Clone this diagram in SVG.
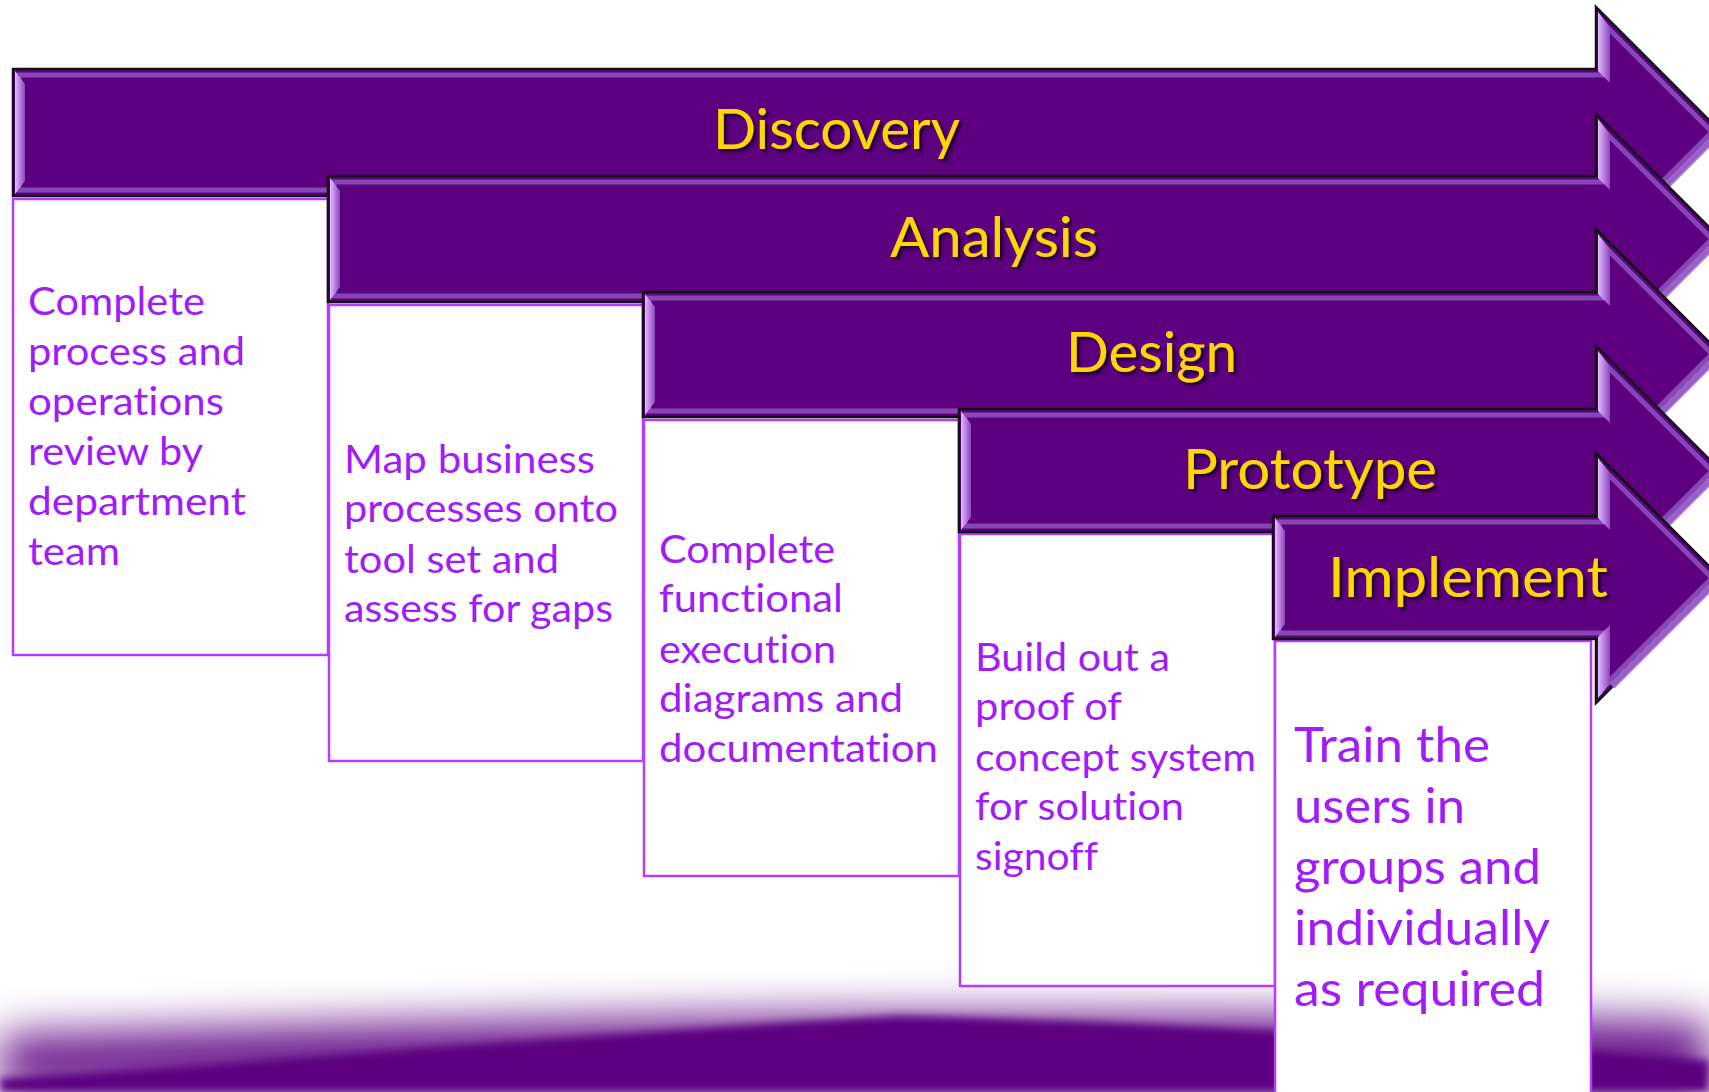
<svg xmlns="http://www.w3.org/2000/svg" width="1709" height="1092" viewBox="0 0 1709 1092">
<style>
.arrow{fill:#5C0080;stroke:#111;stroke-width:2.5;stroke-linejoin:miter}
.bevel{fill:none;stroke:#8E52C0;stroke-width:5;opacity:0.85}
.bar{fill:url(#barGrad)}
.diag{stroke:#A46AD6;stroke-width:7;opacity:0.9}
.h{font-family:Lato,"Open Sans",sans-serif;font-size:56px;fill:#FFD700;filter:url(#tshadow);font-variant-ligatures:none}
.box{fill:#fff;stroke:#B53DFF;stroke-width:2.5}
.t{font-family:Lato,"Open Sans",sans-serif;font-size:39px;fill:#A21CFA;font-variant-ligatures:none}
.tl{font-family:Lato,"Open Sans",sans-serif;font-size:49px;fill:#A21CFA;font-variant-ligatures:none}
</style>
<defs>
<linearGradient id="barGrad" x1="0" y1="0" x2="1" y2="0">
<stop offset="0" stop-color="#E4B8FF"/>
<stop offset="1" stop-color="#8A48BC"/>
</linearGradient>
<filter id="tshadow" x="-10%" y="-20%" width="130%" height="150%">
<feGaussianBlur in="SourceAlpha" stdDeviation="1.5"/>
<feOffset dx="2.5" dy="3" result="o"/>
<feFlood flood-color="#1a0025" flood-opacity="0.85"/>
<feComposite in2="o" operator="in"/>
<feMerge><feMergeNode/><feMergeNode in="SourceGraphic"/></feMerge>
</filter>
<filter id="blurBig" x="-10%" y="-100%" width="120%" height="300%"><feGaussianBlur stdDeviation="22"/></filter>
<filter id="blurSmall" x="-10%" y="-100%" width="120%" height="300%"><feGaussianBlur stdDeviation="4"/></filter>
</defs>
<rect width="1709" height="1092" fill="#fff"/>

<g id="wave">
<path d="M0,1092 L0,1035 C300,1025 650,1016 900,1014 C1150,1014 1450,1014 1709,1022 L1709,1092 Z" fill="#5C0080" filter="url(#blurBig)" opacity="0.9"/>
<path d="M0,1092 L0,1078 C300,1060 650,1030 900,1016 C1150,1022 1450,1040 1709,1060 L1709,1092 Z" fill="#5C0080" filter="url(#blurSmall)"/>
</g>

<g id="box-discovery">
<rect class="box" x="13" y="199" width="315" height="456"/>
<text class="t"><tspan x="28" y="315" textLength="177" lengthAdjust="spacingAndGlyphs">Complete</tspan><tspan x="28" y="365" textLength="217" lengthAdjust="spacingAndGlyphs">process and</tspan><tspan x="28" y="415" textLength="196" lengthAdjust="spacingAndGlyphs">operations</tspan><tspan x="28" y="465" textLength="175" lengthAdjust="spacingAndGlyphs">review by</tspan><tspan x="28" y="515" textLength="218" lengthAdjust="spacingAndGlyphs">department</tspan><tspan x="28" y="565" textLength="92" lengthAdjust="spacingAndGlyphs">team</tspan></text>
</g>
<g id="box-analysis">
<rect class="box" x="329" y="305" width="314" height="456"/>
<text class="t"><tspan x="344" y="473" textLength="251" lengthAdjust="spacingAndGlyphs">Map business</tspan><tspan x="344" y="522" textLength="274" lengthAdjust="spacingAndGlyphs">processes onto</tspan><tspan x="344" y="573" textLength="215" lengthAdjust="spacingAndGlyphs">tool set and</tspan><tspan x="344" y="622" textLength="269" lengthAdjust="spacingAndGlyphs">assess for gaps</tspan></text>
</g>
<g id="box-design">
<rect class="box" x="644" y="420" width="315" height="456"/>
<text class="t"><tspan x="659" y="563" textLength="176" lengthAdjust="spacingAndGlyphs">Complete</tspan><tspan x="659" y="612" textLength="184" lengthAdjust="spacingAndGlyphs">functional</tspan><tspan x="659" y="663" textLength="177" lengthAdjust="spacingAndGlyphs">execution</tspan><tspan x="659" y="712" textLength="244" lengthAdjust="spacingAndGlyphs">diagrams and</tspan><tspan x="659" y="762" textLength="279" lengthAdjust="spacingAndGlyphs">documentation</tspan></text>
</g>
<g id="box-prototype">
<rect class="box" x="960" y="534" width="315" height="452"/>
<text class="t"><tspan x="975" y="671" textLength="195" lengthAdjust="spacingAndGlyphs">Build out a</tspan><tspan x="975" y="720" textLength="147" lengthAdjust="spacingAndGlyphs">proof of</tspan><tspan x="975" y="771" textLength="281" lengthAdjust="spacingAndGlyphs">concept system</tspan><tspan x="975" y="820" textLength="209" lengthAdjust="spacingAndGlyphs">for solution</tspan><tspan x="975" y="870" textLength="123" lengthAdjust="spacingAndGlyphs">signoff</tspan></text>
</g>
<g id="box-implement">
<rect class="box" x="1275" y="641" width="316" height="460"/>
<text class="tl"><tspan x="1294" y="762" textLength="196" lengthAdjust="spacingAndGlyphs">Train the</tspan><tspan x="1294" y="823" textLength="171" lengthAdjust="spacingAndGlyphs">users in</tspan><tspan x="1294" y="884" textLength="247" lengthAdjust="spacingAndGlyphs">groups and</tspan><tspan x="1294" y="945" textLength="256" lengthAdjust="spacingAndGlyphs">individually</tspan><tspan x="1294" y="1006" textLength="251" lengthAdjust="spacingAndGlyphs">as required</tspan></text>
</g>

<g id="arrow-discovery">
<path class="arrow" d="M13,69 H1596 V7 L1721,132 L1596,257 V196 H13 Z"/>
<path class="bevel" d="M19,75 H1602 V22 L1712,132 L1602,242 V190 H19 Z"/>
<polygon class="bar" points="15,71 25,84 25,181 15,194"/>
<polygon class="bar" points="1598,12 1610,27 1610,83 1598,71"/>
<polygon class="bar" points="1598,194 1610,182 1610,238 1598,252"/>
<line class="diag" x1="1612" y1="240" x2="1712" y2="140"/>
<text class="h" x="713" y="149" textLength="247" lengthAdjust="spacingAndGlyphs">Discovery</text>
</g>
<g id="arrow-analysis">
<path class="arrow" d="M328,176 H1596 V114 L1721,239 L1596,364 V302 H328 Z"/>
<path class="bevel" d="M334,182 H1602 V129 L1712,239 L1602,349 V296 H334 Z"/>
<polygon class="bar" points="330,178 340,191 340,287 330,300"/>
<polygon class="bar" points="1598,119 1610,134 1610,190 1598,178"/>
<polygon class="bar" points="1598,300 1610,288 1610,345 1598,359"/>
<line class="diag" x1="1612" y1="347" x2="1712" y2="247"/>
<text class="h" x="890" y="257" textLength="208" lengthAdjust="spacingAndGlyphs">Analysis</text>
</g>
<g id="arrow-design">
<path class="arrow" d="M643,292 H1596 V229 L1721,354 L1596,479 V417 H643 Z"/>
<path class="bevel" d="M649,298 H1602 V244 L1712,354 L1602,464 V411 H649 Z"/>
<polygon class="bar" points="645,294 655,307 655,402 645,415"/>
<polygon class="bar" points="1598,234 1610,249 1610,306 1598,294"/>
<polygon class="bar" points="1598,415 1610,403 1610,460 1598,474"/>
<line class="diag" x1="1612" y1="462" x2="1712" y2="362"/>
<text class="h" x="1066" y="372" textLength="171" lengthAdjust="spacingAndGlyphs">Design</text>
</g>
<g id="arrow-prototype">
<path class="arrow" d="M959,409 H1596 V346 L1721,471 L1596,596 V532 H959 Z"/>
<path class="bevel" d="M965,415 H1602 V361 L1712,471 L1602,581 V526 H965 Z"/>
<polygon class="bar" points="961,411 971,424 971,517 961,530"/>
<polygon class="bar" points="1598,351 1610,366 1610,423 1598,411"/>
<polygon class="bar" points="1598,530 1610,518 1610,577 1598,591"/>
<line class="diag" x1="1612" y1="579" x2="1712" y2="479"/>
<text class="h" x="1183" y="489" textLength="254" lengthAdjust="spacingAndGlyphs">Prototype</text>
</g>
<g id="arrow-implement">
<path class="arrow" d="M1273,516 H1596 V453 L1721,578 L1596,703 V639 H1273 Z"/>
<path class="bevel" d="M1279,522 H1602 V468 L1712,578 L1602,688 V633 H1279 Z"/>
<polygon class="bar" points="1275,518 1285,531 1285,624 1275,637"/>
<polygon class="bar" points="1598,458 1610,473 1610,530 1598,518"/>
<polygon class="bar" points="1598,637 1610,625 1610,684 1598,698"/>
<line class="diag" x1="1612" y1="686" x2="1712" y2="586"/>
<text class="h" x="1328" y="597" textLength="280" lengthAdjust="spacingAndGlyphs">Implement</text>
</g>
</svg>
